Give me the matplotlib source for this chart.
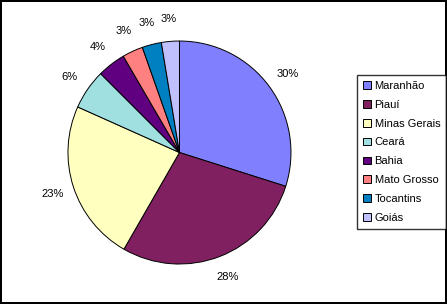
import matplotlib
matplotlib.use('Agg')
from matplotlib import pyplot as plt

plt.rcParams['font.family'] = ['Liberation Sans', 'DejaVu Sans']

# data
states = ['Maranhão', 'Piauí', 'Minas Gerais', 'Ceará', 'Bahia',
          'Mato Grosso', 'Tocantins', 'Goiás']
shares = [29.9, 28.4, 23.4, 5.8, 4.1, 3.0, 2.8, 2.6]
colors = ['#8080FF', '#802060', '#FFFFC0', '#A0E0E0', '#600080',
          '#FF8080', '#0080C0', '#C0C0FF']

fig = plt.figure(figsize=(4.47, 3.04), dpi=100)
fig.patch.set_facecolor('white')
fig.patch.set_edgecolor('black')
fig.patch.set_linewidth(1.5)

ax = fig.add_axes([0.0897, 0.0398, 0.6236, 0.917])
wedges, texts, autotexts = ax.pie(
    shares, colors=colors, startangle=90, counterclock=False,
    autopct='%.0f%%', pctdistance=1.2,
    wedgeprops={'edgecolor': 'black', 'linewidth': 0.7},
    textprops={'fontsize': 8, 'color': 'black'})
ax.set_xlim(-1.25, 1.25)
ax.set_ylim(-1.25, 1.25)
ax.set_aspect('equal')

leg = fig.legend(wedges, states, loc='upper left',
                 bbox_to_anchor=(357.3 / 447, 1 - 74.7 / 304),
                 borderaxespad=0, fontsize=8, frameon=True, fancybox=False,
                 edgecolor='black', handlelength=0.7, handleheight=0.7,
                 handletextpad=0.3, labelspacing=0.8, borderpad=0.55)
leg.get_frame().set_linewidth(1.0)

fig.savefig('out.png', dpi=100)
